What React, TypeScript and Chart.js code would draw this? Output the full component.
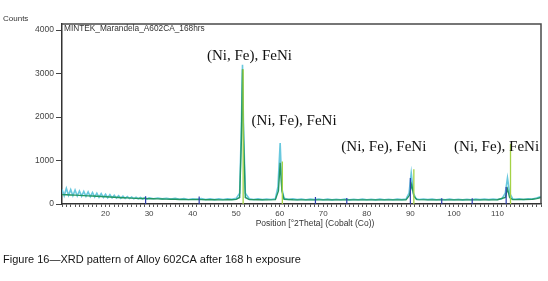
import React, { useEffect, useRef } from "react";
import { Chart, registerables } from "chart.js";

Chart.register(...registerables);

// ---- data ----
const rawPositions = [
  10, 10.5, 11, 11.5, 12, 12.5, 13, 13.5, 14, 14.5, 15, 15.5, 16, 16.5, 17, 17.5, 18, 18.5, 19, 19.5,
  20, 20.5, 21, 21.5, 22, 22.5, 23, 23.5, 24, 24.5, 25, 25.5, 26, 26.5, 27, 27.5, 28, 28.5, 29, 29.5,
  30, 31, 32, 33, 34, 35, 36, 37, 38, 39, 40, 41, 42, 43, 44,
  45, 46, 47, 48, 49, 50, 50.8, 51.2, 51.45, 51.7, 52.1, 53, 54, 55, 56, 57, 58, 59, 59.6, 60.1, 60.5,
  61, 62, 63, 64, 65, 66, 67, 68, 69, 70, 71, 72, 73, 74, 75, 76, 77, 78, 79, 80, 81, 82, 83, 84, 85,
  86, 87, 88, 89, 89.7, 90.2, 90.7, 91.3, 92, 93, 94, 95, 96, 97, 98, 99, 100, 101, 102, 103, 104, 105,
  106, 107, 108, 109, 110, 111, 111.8, 112.3, 112.8, 113.5, 114, 115, 116, 117, 118, 119, 120,
];
const rawCounts = [
  340, 190, 360, 200, 330, 190, 320, 185, 300, 180, 290, 175, 280, 170, 265, 160, 250, 155, 240, 150,
  225, 145, 215, 140, 200, 135, 190, 130, 180, 128, 170, 125, 160, 120, 155, 118, 150, 115, 145, 112,
  140, 122, 138, 118, 132, 112, 128, 108, 125, 105, 122, 110, 125, 105, 120,
  102, 118, 103, 120, 108, 130, 250, 1800, 3200, 1700, 250, 120, 105, 118, 100, 115, 102, 120, 400, 1400, 350,
  130, 105, 118, 100, 115, 98, 112, 100, 115, 98, 112, 96, 110, 98, 112, 96, 110, 98, 112, 97, 110, 96, 112, 98, 110,
  97, 112, 100, 115, 250, 715, 250, 120, 105, 115, 100, 112, 98, 110, 97, 112, 98, 110, 96, 110, 98, 112,
  100, 114, 100, 115, 102, 118, 250, 600, 250, 120, 108, 118, 105, 118, 112, 140, 170,
];

const fitPositions = [
  10, 11, 12, 13, 14, 15, 16, 17, 18, 19, 20, 21, 22, 23, 24, 25, 26, 27, 28, 29, 30, 31, 32, 33, 34, 35,
  36, 37, 38, 39, 40, 41, 42, 43, 44, 45, 46, 47, 48, 49, 50, 50.8, 51.2, 51.45, 51.7, 52.1, 53, 55, 57, 59,
  59.7, 60.1, 60.5, 61, 63, 66, 70, 75, 80, 85, 89, 89.8, 90.3, 90.8, 91.5, 95, 100, 105, 110, 111.8, 112.3,
  112.8, 113.5, 116, 118, 119, 120,
];
const fitCounts = [
  215, 212, 208, 203, 198, 193, 188, 183, 178, 173, 168, 162, 155, 150, 145, 140, 135, 130, 127, 125, 122, 120, 117, 115, 112, 110,
  108, 105, 103, 100, 100, 102, 100, 98, 97, 97, 96, 96, 97, 98, 105, 150, 1500, 3100, 1500, 150, 100, 97, 96, 100,
  300, 950, 300, 110, 97, 95, 94, 95, 94, 95, 96, 200, 450, 180, 100, 96, 95, 96, 98, 150, 350,
  150, 100, 102, 108, 125, 150,
];

const blueStickPositions = [29.2, 41.5, 68.2, 75.4, 90.0, 97.2, 104.2, 112.0];
const blueStickCounts = [180, 170, 160, 140, 600, 130, 130, 390];

const greenStickPositions = [51.6, 60.6, 90.8, 113.0];
const greenStickCounts = [3100, 980, 800, 1380];

const yTickValues = [0, 1000, 2000, 3000, 4000];
const xLabelValues = [20, 30, 40, 50, 60, 70, 80, 90, 100, 110];

const peakLabelText = ["(Ni, Fe), FeNi", "(Ni, Fe), FeNi", "(Ni, Fe), FeNi", "(Ni, Fe), FeNi"];
const peakLabelPositions = [53.05, 63.3, 83.9, 109.8];
const peakLabelCounts = [3410, 1900, 1320, 1320];

const sampleName = "MINTEK_Marandela_A602CA_168hrs";
const yAxisLabel = "Counts";
const xAxisTitle = "Position [°2Theta] (Cobalt (Co))";
const xAxisTitleCenter = 68.1;
const caption = "Figure 16\u2014XRD pattern of Alloy 602CA after 168 h exposure";

function pairs(xs: number[], ys: number[]) {
  return xs.map((x, i) => ({ x, y: ys[i] }));
}
function sticks(xs: number[], ys: number[]) {
  const out: { x: number; y: number | null }[] = [];
  xs.forEach((x, i) => {
    out.push({ x, y: 0 }, { x, y: ys[i] }, { x, y: null });
  });
  return out;
}

const SANS = "'Liberation Sans', Arial, sans-serif";

export default function App() {
  const ref = useRef<HTMLCanvasElement | null>(null);

  useEffect(() => {
    if (!ref.current) return;
    const overlay = {
      id: "overlay",
      afterDraw(chart: any) {
        const { ctx, chartArea, scales } = chart;
        const { left, top, right, bottom } = chartArea;
        const x = scales.x;
        const y = scales.y;
        ctx.save();
        ctx.strokeStyle = "#4a4a4a";
        ctx.lineWidth = 1.5;
        ctx.beginPath();
        ctx.moveTo(left, top);
        ctx.lineTo(right, top);
        ctx.lineTo(right, bottom);
        ctx.stroke();

        ctx.font = "15px 'Liberation Serif', 'Times New Roman', serif";
        ctx.fillStyle = "#111";
        ctx.textAlign = "center";
        ctx.textBaseline = "middle";
        peakLabelText.forEach((t, i) => {
          ctx.fillText(t, x.getPixelForValue(peakLabelPositions[i]), y.getPixelForValue(peakLabelCounts[i]));
        });

        ctx.font = "8.5px " + SANS;
        ctx.fillStyle = "#333";
        ctx.fillText(xAxisTitle, x.getPixelForValue(xAxisTitleCenter), bottom + 20);

        ctx.textAlign = "left";
        ctx.font = "8.3px " + SANS;
        ctx.fillStyle = "#333";
        ctx.fillText(sampleName, left + 2, top + 5);

        ctx.font = "8px " + SANS;
        ctx.fillStyle = "#333";
        ctx.fillText(yAxisLabel, 3, 18.5);

        ctx.font = "11px " + SANS;
        ctx.fillStyle = "#151515";
        ctx.fillText(caption, 3, 260);
        ctx.restore();
      },
    };

    const chart = new Chart(ref.current, {
      type: "line",
      data: {
        datasets: [
          {
            label: "green sticks",
            data: sticks(greenStickPositions, greenStickCounts),
            borderColor: "rgb(165, 210, 70)",
            borderWidth: 1.3,
            pointRadius: 0,
            spanGaps: false,
            order: 0,
          },
          {
            label: "blue sticks",
            data: sticks(blueStickPositions, blueStickCounts),
            borderColor: "rgb(45, 60, 175)",
            borderWidth: 1.2,
            pointRadius: 0,
            spanGaps: false,
            order: 1,
          },
          {
            label: "fit",
            data: pairs(fitPositions, fitCounts),
            borderColor: "rgb(35, 150, 100)",
            borderWidth: 1.4,
            pointRadius: 0,
            order: 2,
          },
          {
            label: "raw",
            data: pairs(rawPositions, rawCounts),
            borderColor: "rgb(105, 200, 222)",
            borderWidth: 1.6,
            pointRadius: 0,
            order: 3,
          },
        ],
      },
      options: {
        animation: false,
        responsive: false,
        devicePixelRatio: 1,
        layout: { padding: { left: 0, top: 24, right: 7, bottom: 51 } },
        plugins: { legend: { display: false }, tooltip: { enabled: false }, title: { display: false } },
        scales: {
          x: {
            type: "linear",
            min: 10,
            max: 120,
            afterFit: (s: any) => {
              s.height = 26;
            },
            ticks: {
              stepSize: 1,
              autoSkip: false,
              maxRotation: 0,
              padding: 2,
              color: "#444",
              font: { size: 8, family: SANS },
              callback: (v: any) => (xLabelValues.includes(Number(v)) ? String(v) : ""),
            },
            grid: { drawOnChartArea: false, drawTicks: true, tickLength: 3, color: "#555", lineWidth: 1 },
            border: { display: true, color: "#333", width: 1.5 },
          },
          y: {
            type: "linear",
            min: 0,
            max: 4140,
            afterFit: (s: any) => {
              s.width = 62;
            },
            afterBuildTicks: (s: any) => {
              s.ticks = yTickValues.map((v) => ({ value: v }));
            },
            ticks: {
              padding: 2,
              color: "#444",
              font: { size: 8.5, family: SANS },
              callback: (v: any) => String(v),
            },
            grid: { drawOnChartArea: false, drawTicks: true, tickLength: 6, color: "#444", lineWidth: 1 },
            border: { display: true, color: "#333", width: 1.5 },
          },
        },
      },
      plugins: [overlay],
    } as any);
    return () => chart.destroy();
  }, []);

  return (
    <div style={{ position: "fixed", left: 0, top: 0, width: 548, height: 281, background: "#fff" }}>
      <canvas ref={ref} width={548} height={281} style={{ display: "block", width: 548, height: 281 }} />
    </div>
  );
}
